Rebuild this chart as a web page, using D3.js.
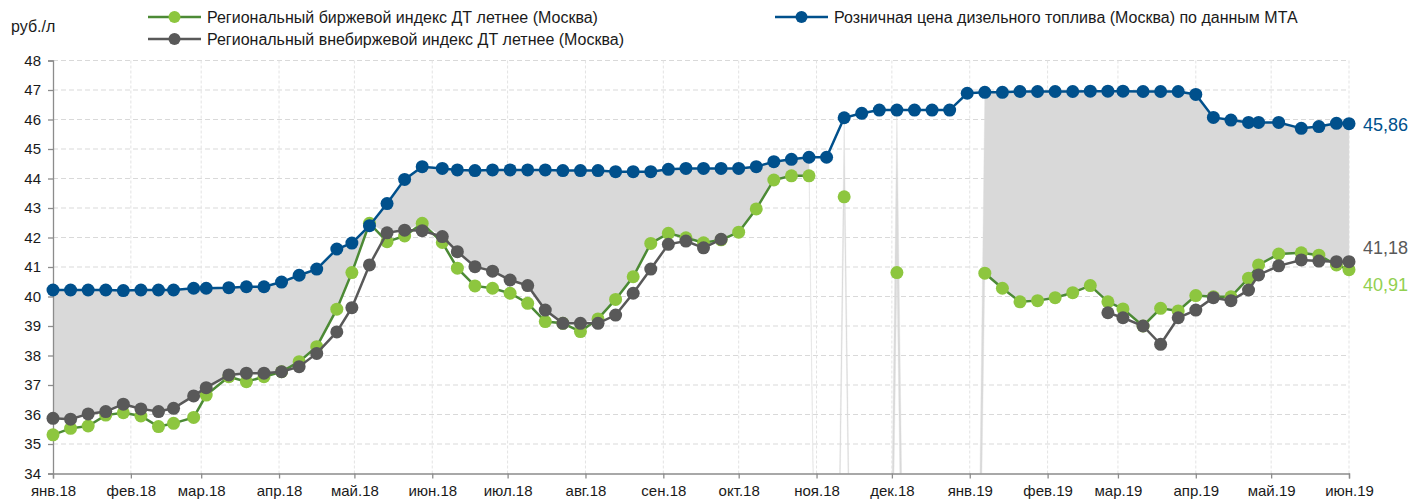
<!DOCTYPE html>
<html>
<head>
<meta charset="utf-8">
<script src="https://cdn.jsdelivr.net/npm/d3@7"></script>
<style>
  html, body { margin: 0; padding: 0; background: #fff; }
  svg { display: block; font-family: "Liberation Sans", Arial, sans-serif; }
</style>
</head>
<body>
<svg id="chart" width="1412" height="501"></svg>
<script>
// Weekly observation dates
const dates = [
  "2018-01-01","2018-01-08","2018-01-15","2018-01-22","2018-01-29","2018-02-05","2018-02-12","2018-02-18",
  "2018-02-26","2018-03-03","2018-03-12","2018-03-19","2018-03-26","2018-04-02","2018-04-09","2018-04-16",
  "2018-04-24","2018-04-30","2018-05-07","2018-05-14","2018-05-21","2018-05-28","2018-06-05","2018-06-11",
  "2018-06-18","2018-06-25","2018-07-02","2018-07-09","2018-07-16","2018-07-23","2018-07-30","2018-08-06",
  "2018-08-13","2018-08-20","2018-08-27","2018-09-03","2018-09-10","2018-09-17","2018-09-24","2018-10-01",
  "2018-10-08","2018-10-15","2018-10-22","2018-10-29","2018-11-05","2018-11-12","2018-11-19","2018-11-26",
  "2018-12-03","2018-12-10","2018-12-17","2018-12-24","2018-12-31","2019-01-07","2019-01-14","2019-01-21",
  "2019-01-28","2019-02-04","2019-02-11","2019-02-18","2019-02-25","2019-03-03","2019-03-11","2019-03-18",
  "2019-03-25","2019-04-01","2019-04-08","2019-04-15","2019-04-22","2019-04-26","2019-05-04","2019-05-13",
  "2019-05-20","2019-05-27","2019-06-01"
];

// Розничная цена ДТ (Москва), МТА
const retail = [
  40.22,40.22,40.22,40.22,40.20,40.22,40.22,40.22,
  40.28,40.28,40.30,40.33,40.33,40.49,40.72,40.93,
  41.61,41.81,42.40,43.15,43.97,44.40,44.34,44.29,
  44.27,44.29,44.29,44.29,44.29,44.27,44.27,44.27,
  44.23,44.23,44.23,44.31,44.34,44.34,44.34,44.34,
  44.40,44.57,44.65,44.72,44.72,46.06,46.21,46.32,
  46.32,46.32,46.32,46.32,46.89,46.92,46.92,46.95,
  46.95,46.95,46.95,46.96,46.96,46.96,46.95,46.95,
  46.95,46.85,46.07,45.98,45.90,45.90,45.90,45.70,
  45.76,45.87,45.86
];

// Региональный биржевой индекс ДТ летнее (Москва)
const exchange = [
  35.31,35.53,35.61,35.98,36.06,35.95,35.59,35.70,
  35.90,36.66,37.28,37.11,37.28,37.45,37.79,38.30,
  39.57,40.81,42.48,41.86,42.05,42.48,41.83,40.96,
  40.36,40.28,40.11,39.77,39.15,39.09,38.81,39.24,
  39.90,40.67,41.80,42.14,41.99,41.82,41.92,42.18,
  42.97,43.95,44.09,44.09,null,43.38,null,null,
  40.81,null,null,null,null,40.79,40.28,39.82,
  39.86,39.96,40.13,40.37,39.82,39.58,39.00,39.60,
  39.51,40.03,39.99,39.99,40.62,41.07,41.44,41.48,
  41.40,41.07,40.91
];

// Региональный внебиржевой индекс ДТ летнее (Москва)
const otc = [
  35.87,35.84,36.02,36.10,36.35,36.19,36.10,36.21,
  36.63,36.91,37.34,37.40,37.40,37.45,37.62,38.07,
  38.80,39.62,41.07,42.16,42.25,42.23,42.03,41.52,
  41.01,40.86,40.56,40.37,39.54,39.09,39.09,39.09,
  39.37,40.11,40.93,41.77,41.88,41.65,41.94,null,
  null,null,null,null,null,null,null,null,
  null,null,null,null,null,null,null,null,
  null,null,null,null,39.45,39.28,39.00,38.38,
  39.28,39.54,39.96,39.86,40.22,40.73,41.04,41.24,
  41.20,41.18,41.18
];

const monthTicks = [
  "2018-01-01","2018-02-01","2018-03-01","2018-04-01","2018-05-01","2018-06-01",
  "2018-07-01","2018-08-01","2018-09-01","2018-10-01","2018-11-01","2018-12-01",
  "2019-01-01","2019-02-01","2019-03-01","2019-04-01","2019-05-01","2019-06-01"
];
const monthLabels = [
  "янв.18","фев.18","мар.18","апр.18","май.18","июн.18","июл.18","авг.18","сен.18",
  "окт.18","ноя.18","дек.18","янв.19","фев.19","мар.19","апр.19","май.19","июн.19"
];
const yTicks = [34,35,36,37,38,39,40,41,42,43,44,45,46,47,48];

const seriesNames = {
  exchange: "Региональный биржевой индекс ДТ летнее (Москва)",
  otc: "Региональный внебиржевой индекс ДТ летнее (Москва)",
  retail: "Розничная цена дизельного топлива (Москва) по данным МТА"
};

const C = {
  retail: "#00508c",
  exchangeLine: "#4c8a35",
  exchangeDot: "#8dc63f",
  exchangeLabel: "#92d050",
  otc: "#595959",
  band: "#d9d9d9",
  grid: "#d9d9d9",
  axis: "#8c8c8c",
  text: "#1a1a1a"
};

const parse = d3.timeParse("%Y-%m-%d");
const svg = d3.select("#chart");
const plot = { left: 53, right: 1349, top: 60.5, bottom: 473.5 };

const x = d3.scaleTime()
  .domain([parse(monthTicks[0]), parse(monthTicks[monthTicks.length - 1])])
  .range([plot.left, plot.right]);
const y = d3.scaleLinear().domain([34, 48]).range([plot.bottom, plot.top]);

const rows = dates.map((d, i) => ({
  date: parse(d), retail: retail[i], exchange: exchange[i], otc: otc[i]
}));

// Spread band between the retail price and the higher of the two indices;
// weeks with no index fall back to zero, as in the source spreadsheet.
rows.forEach(r => {
  const base = [r.exchange, r.otc].filter(v => v != null);
  if (base.length) { r.lo = d3.max(base); r.hi = r.retail; }
  else { r.lo = 0; r.hi = 0; }
});

svg.append("defs").append("clipPath").attr("id", "plot-clip")
  .append("rect")
  .attr("x", plot.left).attr("y", plot.top)
  .attr("width", plot.right - plot.left + 1).attr("height", plot.bottom - plot.top);

// Grid
const grid = svg.append("g");
grid.selectAll(".hg").data(yTicks.filter(v => v > 34)).join("line")
  .attr("x1", plot.left).attr("x2", plot.right)
  .attr("y1", d => y(d)).attr("y2", d => y(d))
  .attr("stroke", C.grid).attr("stroke-width", 1).attr("stroke-dasharray", "5,3");
grid.selectAll(".vg").data(monthTicks.slice(1)).join("line")
  .attr("x1", d => x(parse(d))).attr("x2", d => x(parse(d)))
  .attr("y1", plot.top).attr("y2", plot.bottom)
  .attr("stroke", "#e3e3e3").attr("stroke-width", 1).attr("stroke-dasharray", "3,2");

// Band
const band = d3.area()
  .x(d => x(d.date)).y0(d => y(d.lo)).y1(d => y(d.hi));
svg.append("path")
  .datum(rows)
  .attr("clip-path", "url(#plot-clip)")
  .attr("d", band)
  .attr("fill", C.band)
  .attr("stroke", "#dedede").attr("stroke-width", 0.4);

// Axes
const yAxis = svg.append("g")
  .attr("transform", `translate(${plot.left},0)`)
  .call(d3.axisLeft(y).tickValues(yTicks).tickFormat(d3.format("d")).tickSize(5).tickPadding(7));
const xAxis = svg.append("g")
  .attr("transform", `translate(0,${plot.bottom})`)
  .call(d3.axisBottom(x).tickValues(monthTicks.map(parse))
    .tickFormat((d, i) => monthLabels[i]).tickSize(5).tickPadding(7));
[yAxis, xAxis].forEach(g => {
  g.select(".domain").attr("stroke", C.axis).attr("stroke-width", 1.3);
  g.selectAll(".tick line").attr("stroke", C.axis).attr("stroke-width", 1.3);
  g.selectAll(".tick text").attr("fill", C.text).attr("font-size", 15)
    .attr("font-family", "Liberation Sans, Arial, sans-serif");
});

// Series
function drawSeries(key, lineColor, dotColor) {
  const line = d3.line()
    .defined(d => d[key] != null)
    .x(d => x(d.date)).y(d => y(d[key]));
  svg.append("path").datum(rows)
    .attr("d", line).attr("fill", "none")
    .attr("stroke", lineColor).attr("stroke-width", 2.5);
  svg.append("g").selectAll("circle")
    .data(rows.filter(d => d[key] != null)).join("circle")
    .attr("cx", d => x(d.date)).attr("cy", d => y(d[key]))
    .attr("r", 6.5).attr("fill", dotColor);
}
drawSeries("exchange", C.exchangeLine, C.exchangeDot);
drawSeries("otc", C.otc, C.otc);
drawSeries("retail", C.retail, C.retail);

// End-of-series value labels
const last = rows[rows.length - 1];
const fmt = v => d3.format(".2f")(v).replace(".", ",");
const endLabels = [
  { v: last.retail, color: C.retail, dy: 1 },
  { v: last.otc, color: "#595959", dy: -14 },
  { v: last.exchange, color: C.exchangeLabel, dy: 15 }
];
svg.append("g").selectAll("text").data(endLabels).join("text")
  .attr("x", plot.right + 14)
  .attr("y", d => y(d.v) + d.dy)
  .attr("dy", "0.35em")
  .attr("font-size", 18)
  .attr("fill", d => d.color)
  .text(d => fmt(d.v));

// Unit label
svg.append("text").attr("x", 11).attr("y", 26).attr("dy", "0.35em")
  .attr("font-size", 16).attr("fill", C.text).text("руб./л");

// Legend
const legend = [
  { name: seriesNames.exchange, line: C.exchangeLine, dot: C.exchangeDot, lx: 148, ly: 17 },
  { name: seriesNames.otc, line: C.otc, dot: C.otc, lx: 148, ly: 39 },
  { name: seriesNames.retail, line: C.retail, dot: C.retail, lx: 775, ly: 17 }
];
const lg = svg.append("g").selectAll("g").data(legend).join("g")
  .attr("transform", d => `translate(${d.lx},${d.ly})`);
lg.append("line").attr("x1", 0).attr("x2", 53).attr("y1", 0).attr("y2", 0)
  .attr("stroke", d => d.line).attr("stroke-width", 2.5);
lg.append("circle").attr("cx", 26.5).attr("cy", 0).attr("r", 6).attr("fill", d => d.dot);
lg.append("text").attr("x", 59).attr("y", 0).attr("dy", "0.35em")
  .attr("font-size", 16).attr("fill", C.text).text(d => d.name);
</script>
</body>
</html>
